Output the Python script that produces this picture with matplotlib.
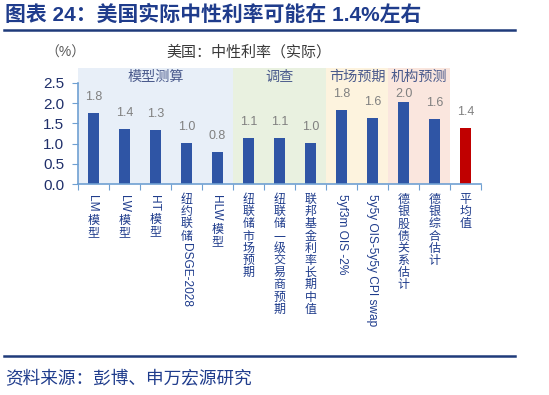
# -*- coding: utf-8 -*-
"""
美国实际中性利率 - 分组柱状图
"""
import matplotlib
matplotlib.use('Agg')
import matplotlib.pyplot as plt
from matplotlib.patches import Rectangle
from matplotlib.lines import Line2D

plt.rcParams['font.family'] = ['Liberation Sans', 'Noto Sans CJK SC', 'DejaVu Sans']

# 数据
categories = ['LM 模型', 'LW 模型', 'HT 模型', '纽约联储DSGE-2028', 'HLW 模型',
              '纽联储市场预期', '纽联储一级交易商预期', '联邦基金利率长期中值',
              '5yf3m OIS -2%', '5y5y OIS-5y5y CPI swap', '德银股债关系估计',
              '德银综合估计', '平均值']
values = [1.76, 1.37, 1.33, 1.01, 0.79, 1.14, 1.13, 1.02, 1.82, 1.63, 2.02, 1.61, 1.39]
group_names = ['模型测算', '调查', '市场预期', '机构预测']
group_start = [0, 5, 8, 10]
group_end = [5, 8, 10, 12]
group_colors = ['#e8eff8', '#e9f1e0', '#fdf3de', '#fae6de']

NAVY = '#1f3c8c'
BAR = '#2f55a5'
AXIS = '#6fa0d2'

fig = plt.figure(figsize=(5.49, 3.95), dpi=100)
W, H = 549, 395

# 标题与分隔线
fig.text(5 / W, 1 - 15 / H, '图表 24：美国实际中性利率可能在 1.4%左右',
         fontsize=15, fontweight='bold', color=NAVY, va='center', ha='left')
fig.add_artist(Line2D([4 / W, 515 / W], [1 - 30 / H] * 2, lw=1.8, color='#1f3b7a'))
fig.add_artist(Line2D([4 / W, 515 / W], [1 - 356 / H] * 2, lw=1.8, color='#1f3b7a'))
fig.text(5 / W, 1 - 379 / H, '资料来源：彭博、申万宏源研究',
         fontsize=12.7, color=NAVY, va='center', ha='left')

fig.text(249 / W, 1 - 52 / H, '美国：中性利率（实际）', fontsize=10.8,
         color='#3a3a3a', ha='center', va='center')
fig.text(65 / W, 1 - 53 / H, '（%）', fontsize=10, color='#595959',
         ha='center', va='center')

ax = fig.add_axes([78 / W, (H - 184) / H, (481 - 78) / W, (184 - 83) / H])
n = len(categories)
x = list(range(n))

# 背景分组
for name, s, e, c in zip(group_names, group_start, group_end, group_colors):
    ax.add_patch(Rectangle((s - 0.5, 0), e - s, 2.87, facecolor=c,
                           edgecolor='none', zorder=0, clip_on=False))
    ax.text((s + e - 1) / 2, 2.66, name, ha='center', va='center',
            fontsize=10.2, color='#4a5a8c', zorder=1)

colors = [BAR] * (n - 1) + ['#c00000']
ax.bar(x, values, width=0.33, color=colors, zorder=2)

# 数据标签（高柱子标签下压，避免与分组名重叠）
px_per_unit = (184 - 83) / 2.5
for xi, v in zip(x, values):
    off = min(16, (2.22 - v) * px_per_unit)
    ax.annotate(f'{v:.1f}', (xi, v), xytext=(0, off), textcoords='offset pixels',
                ha='center', va='center', fontsize=9, color='#808080')

ax.set_xlim(-0.5, n - 0.5)
ax.set_ylim(0, 2.5)
ax.set_yticks([0, 0.5, 1.0, 1.5, 2.0, 2.5])
ax.set_yticklabels([f'{t:.1f}' for t in [0, 0.5, 1.0, 1.5, 2.0, 2.5]])
ax.set_xticks([i - 0.5 for i in range(n + 1)])
ax.set_xticklabels([])
ax.tick_params(axis='y', direction='out', length=4, color=AXIS, labelsize=11,
               labelcolor='#1f2f6a', pad=6)
ax.tick_params(axis='x', direction='out', length=4, color=AXIS)
for side in ['top', 'right']:
    ax.spines[side].set_visible(False)
for side in ['left', 'bottom']:
    ax.spines[side].set_color(AXIS)
    ax.spines[side].set_linewidth(1.2)
ax.patch.set_visible(False)


# 竖排标签：中文直立，西文旋转
def is_cjk(ch):
    return ord(ch) > 0x2e80


def vertical_label(ax, xi, label, start=10, fs=8.6, step=12.2):
    renderer = fig.canvas.get_renderer()
    runs = []
    for ch in label:
        if is_cjk(ch):
            runs.append(ch)
        elif runs and not is_cjk(runs[-1][-1]):
            runs[-1] += ch
        else:
            runs.append(ch)
    off = start
    for r in runs:
        if is_cjk(r[0]):
            ax.annotate(r, (xi, 0), xytext=(0, -off), textcoords='offset pixels',
                        ha='center', va='top', fontsize=fs, color=NAVY,
                        annotation_clip=False)
            off += step
        else:
            t = ax.annotate(r, (xi, 0), xytext=(0, -off), textcoords='offset pixels',
                            ha='center', va='top', fontsize=fs, color=NAVY,
                            rotation=-90, annotation_clip=False)
            off += t.get_window_extent(renderer).height + 1


for xi, lab in zip(x, categories):
    vertical_label(ax, xi, lab)

fig.savefig('out.png', dpi=100)
